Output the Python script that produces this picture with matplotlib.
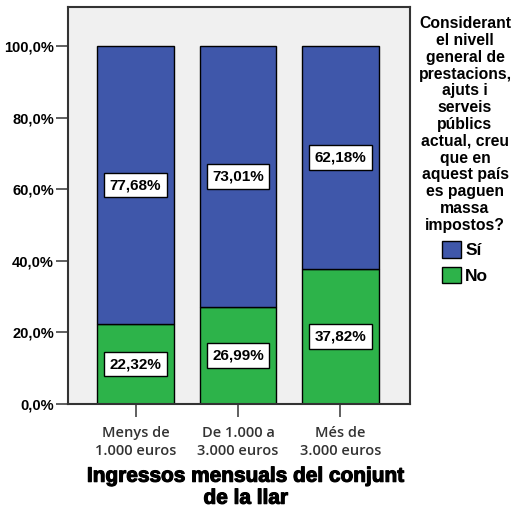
import matplotlib.pyplot as plt
import matplotlib.patheffects as pe
from matplotlib.patches import Patch

# data
categories = ['Menys de\n1.000 euros', 'De 1.000 a\n3.000 euros', 'Més de\n3.000 euros']
si_vals = [77.68, 73.01, 62.18]
no_vals = [22.32, 26.99, 37.82]
si_color = '#3F57AA'
no_color = '#2DB34A'

fig = plt.figure(figsize=(5.16, 5.16), dpi=100)
ax = fig.add_axes([68 / 516, 1 - 404 / 516, 342 / 516, 397 / 516])
ax.set_facecolor('#F0F0F0')

pos = list(range(len(categories)))
ax.bar(pos, no_vals, width=0.75, color=no_color, edgecolor='black', linewidth=1)
ax.bar(pos, si_vals, width=0.75, bottom=no_vals, color=si_color, edgecolor='black', linewidth=1)

box = dict(boxstyle='square,pad=0.35', facecolor='white', edgecolor='black', linewidth=1)
for p, n, s in zip(pos, no_vals, si_vals):
    ax.text(p, n / 2, f'{n:.2f}%'.replace('.', ','), ha='center', va='center',
            fontsize=11, fontweight='bold', family='Liberation Sans', bbox=box)
    ax.text(p, n + s / 2, f'{s:.2f}%'.replace('.', ','), ha='center', va='center',
            fontsize=11, fontweight='bold', family='Liberation Sans', bbox=box)

ax.set_xlim(-0.66, 2.68)
ax.set_ylim(0, 110.9)
yt = [0, 20, 40, 60, 80, 100]
ax.set_yticks(yt)
ax.set_yticklabels([f'{v:.1f}%'.replace('.', ',') for v in yt],
                   fontsize=10.5, fontweight='bold', family='Liberation Sans')
ax.set_xticks(pos)
ax.set_xticklabels(categories, fontsize=10.5, family='Open Sans', fontweight='semibold',
                   color='#333333', linespacing=1.3)
ax.tick_params(axis='both', length=9, width=1.2, color='#444444')
ax.tick_params(axis='y', pad=1)
ax.tick_params(axis='x', pad=7)

for side in ['left', 'bottom', 'top', 'right']:
    ax.spines[side].set_color('#333333')
    ax.spines[side].set_linewidth(1.5)

xl = ax.set_xlabel('Ingressos mensuals del conjunt\nde la llar', fontsize=15,
                   fontweight='heavy', family='Liberation Sans', linespacing=1.2)
xl.set_path_effects([pe.withStroke(linewidth=0.8, foreground='black')])
ax.xaxis.set_label_coords((246 - 68) / 342, -0.158)
xl.set_va('top')

handles = [Patch(facecolor=si_color, edgecolor='black', label='Sí'),
           Patch(facecolor=no_color, edgecolor='black', label='No')]
title = ('Considerant\nel nivell\ngeneral de\nprestacions,\najuts i\nserveis\npúblics\n'
         'actual, creu\nque en\naquest país\nes paguen\nmassa\nimpostos?')
leg = fig.legend(handles=handles, title=title, loc='upper center',
                 bbox_to_anchor=(465 / 516, 1 - 4 / 516), frameon=False,
                 prop={'family': 'Liberation Sans', 'size': 12.5, 'weight': 'bold'},
                 handlelength=1.1, handleheight=1.1, handletextpad=0.25,
                 labelspacing=0.48, borderpad=0.2)
leg.get_title().set_fontproperties({'family': 'Liberation Sans', 'size': 11.3, 'weight': 'bold'})
leg.get_title().set_multialignment('center')
leg.get_title().set_linespacing(1.15)

fig.savefig('out.png', dpi=100)
